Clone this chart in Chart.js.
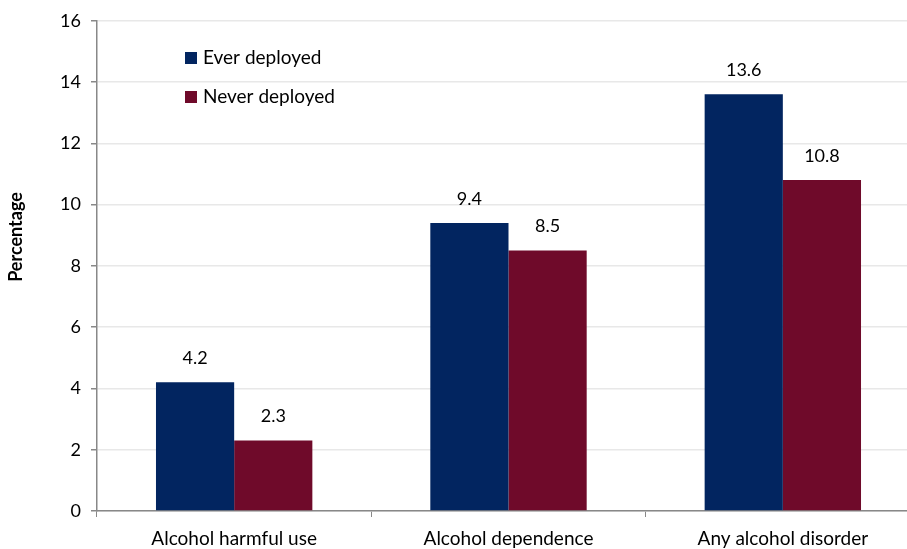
<!DOCTYPE html>
<html>
<head>
<meta charset="utf-8">
<script src="https://cdn.jsdelivr.net/npm/chart.js@4/dist/chart.umd.min.js"></script>
<style>
html, body { margin: 0; padding: 0; background: #fff; overflow: hidden; }
#wrap { width: 920px; height: 549px; }
</style>
</head>
<body>
<div id="wrap"><canvas id="graph"></canvas></div>
<script>
const categories = ['Alcohol harmful use', 'Alcohol dependence', 'Any alcohol disorder'];
const everDeployed = [4.2, 9.4, 13.6];
const neverDeployed = [2.3, 8.5, 10.8];
const seriesNames = ['Ever deployed', 'Never deployed'];
const yTitle = 'Percentage';

const FONT = 'Lato, "Open Sans", sans-serif';

// value labels above each bar
const valueLabels = {
	id: 'valueLabels',
	afterDatasetsDraw(chart) {
		const ctx = chart.ctx;
		ctx.save();
		ctx.font = '18px ' + FONT;
		ctx.fillStyle = '#000';
		ctx.textAlign = 'center';
		ctx.textBaseline = 'middle';
		chart.data.datasets.forEach((ds, i) => {
			chart.getDatasetMeta(i).data.forEach((bar, j) => {
				ctx.fillText(ds.data[j].toFixed(1), bar.x, bar.y - 24);
			});
		});
		ctx.restore();
	},
};

// legend inside the plot area + rotated axis title
const extras = {
	id: 'extras',
	afterDraw(chart) {
		const ctx = chart.ctx;
		ctx.save();
		ctx.font = '19px ' + FONT;
		ctx.textBaseline = 'middle';
		chart.data.datasets.forEach((ds, i) => {
			const y = 58 + i * 39;
			ctx.fillStyle = ds.backgroundColor;
			ctx.fillRect(185, y - 6, 12, 12);
			ctx.fillStyle = '#000';
			ctx.fillText(ds.label, 203, y);
		});
		ctx.translate(16, 237);
		ctx.rotate(-Math.PI / 2);
		ctx.textAlign = 'center';
		ctx.font = 'bold 18px ' + FONT;
		ctx.fillText(yTitle, 0, 0);
		ctx.restore();
	},
};

const config = {
	type: 'bar',
	data: {
		labels: categories,
		datasets: [
			{ label: seriesNames[0], data: everDeployed, backgroundColor: '#022560' },
			{ label: seriesNames[1], data: neverDeployed, backgroundColor: '#6f0a2a' },
		],
	},
	options: {
		responsive: true,
		maintainAspectRatio: false,
		animation: false,
		layout: { padding: { top: 18, right: 0, left: 0, bottom: 0 } },
		datasets: { bar: { categoryPercentage: 0.57, barPercentage: 1.0 } },
		scales: {
			x: {
				grid: { offset: true, drawOnChartArea: false, tickLength: 6, color: '#888' },
				border: { color: '#888', width: 1.5 },
				ticks: { color: '#000', font: { size: 19, family: FONT }, padding: 10 },
				afterFit: (s) => { s.height = 38; },
			},
			y: {
				min: 0,
				max: 16,
				ticks: { stepSize: 2, color: '#000', font: { size: 18, family: FONT }, padding: 10 },
				grid: { color: '#e8e8e8', tickColor: '#888', tickLength: 6, lineWidth: 1.5 },
				border: { color: '#888', width: 1.5 },
				afterFit: (s) => { s.width = 97; },
			},
		},
		plugins: {
			legend: { display: false },
			tooltip: { enabled: false },
		},
	},
	plugins: [valueLabels, extras],
};

new Chart(document.getElementById('graph'), config);
</script>
</body>
</html>
